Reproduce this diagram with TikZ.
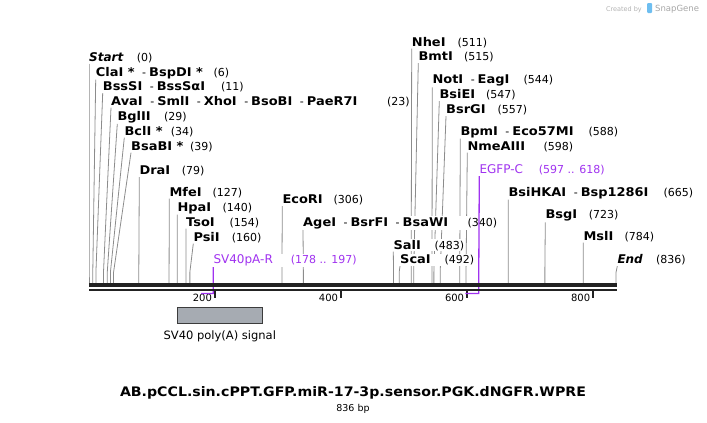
\documentclass[tikz,border=0pt]{standalone}
\usepackage{fontspec}
\setmainfont{DejaVu Sans}[BoldFeatures={FakeStretch=1.08}]
\usetikzlibrary{positioning}
\definecolor{sitegray}{RGB}{140,140,140}
\definecolor{primer}{RGB}{160,50,240}
\definecolor{featfill}{RGB}{166,171,178}
\definecolor{featdraw}{RGB}{60,60,60}
\definecolor{axisblack}{RGB}{34,34,34}
\definecolor{logoblue}{RGB}{110,190,240}
\pgfdeclarelayer{bg}
\pgfsetlayers{bg,main}
\newcommand{\enz}[1]{{\fontsize{12}{14}\selectfont\bfseries #1}}
\newcommand{\enzsep}{\hspace{7.5pt}-\hspace{3pt}}
\newcommand{\sitelabel}[3]{\makebox[#1pt][l]{#2}(#3)}
\begin{document}
\begin{tikzpicture}[x=1pt, y=-1pt,
    cut/.style={anchor=base west, inner xsep=0pt, inner ysep=1pt, fill=white,
      font=\fontsize{11}{13}\selectfont},
    oligo/.style={cut, text=primer},
    cutline/.style={draw=sitegray, line width=0.8pt},
    oligoline/.style={draw=primer, line width=1.3pt},
    bar/.style={draw=axisblack},
    tick/.style={draw=axisblack, line width=2pt},
    feat/.style={draw=featdraw, fill=featfill, line width=1.2pt,
      minimum width=85pt, minimum height=16pt, inner sep=0pt}]
  \useasboundingbox (0,0) rectangle (707,423);

  \begin{scope}[xshift=89pt, x=0.6305pt]
    \foreach \bp in {0,6,11,23,29,34,39,79,127,140,154,160,178,197,306,340,
        483,492,511,515,544,547,557,588,598,597,618,665,723,784,836}
      \coordinate (s\bp) at (\bp,283);
    \foreach \t in {200,400,600,800} {
      \draw[tick] (\t,291) -- (\t,297.5);
      \node[anchor=base east, inner sep=0pt, font=\fontsize{10}{12}\selectfont]
        (tick\t) at ([xshift=-3pt]\t,301) {\t};
    }
  \end{scope}

  \node[cut] (start) at (89,61) {\sitelabel{47.7}{\enz{\itshape Start}}{0}};
  \node[cut] (claI) at (95.7,76) {\sitelabel{117.6}{\enz{ClaI *}\enzsep\enz{BspDI *}}{6}};
  \node[cut] (bssSI) at (102.7,90.5) {\sitelabel{118.3}{\enz{BssSI}\enzsep\enz{BssSαI}}{11}};
  \node[cut] (avaI) at (111,105) {\sitelabel{276}{\enz{AvaI}\enzsep\enz{SmlI}\enzsep\enz{XhoI}\enzsep\enz{BsoBI}\enzsep\enz{PaeR7I}}{23}};
  \node[cut] (bglII) at (117.3,120) {\sitelabel{46.7}{\enz{BglII}}{29}};
  \node[cut] (bclI) at (124.3,135) {\sitelabel{46.4}{\enz{BclI *}}{34}};
  \node[cut] (bsaBI) at (131,150) {\sitelabel{59}{\enz{BsaBI *}}{39}};
  \node[cut] (draI) at (139.3,174.5) {\sitelabel{42.4}{\enz{DraI}}{79}};
  \node[cut] (mfeI) at (169.3,196) {\sitelabel{43}{\enz{MfeI}}{127}};
  \node[cut] (hpaI) at (177.3,211) {\sitelabel{45}{\enz{HpaI}}{140}};
  \node[cut] (tsoI) at (186,226) {\sitelabel{43.3}{\enz{TsoI}}{154}};
  \node[cut] (psiI) at (193.3,241) {\sitelabel{38.4}{\enz{PsiI}}{160}};
  \node[oligo] (sv40r) at (213.3,263.5) {\makebox[77.4pt][l]{\fontsize{12}{14}\selectfont SV40pA-R}(178 .. 197)};
  \node[cut] (ecoRI) at (282.3,203.5) {\sitelabel{51}{\enz{EcoRI}}{306}};
  \node[cut] (ageI) at (303,226) {\sitelabel{164.3}{\enz{AgeI}\enzsep\enz{BsrFI}\enzsep\enz{BsaWI}}{340}};
  \node[cut] (salI) at (393.3,249) {\sitelabel{41}{\enz{SalI}}{483}};
  \node[cut] (scaI) at (400,263.5) {\sitelabel{44.3}{\enz{ScaI}}{492}};
  \node[cut] (nheI) at (411.7,46) {\sitelabel{45.6}{\enz{NheI}}{511}};
  \node[cut] (bmtI) at (418.3,60.5) {\sitelabel{45.7}{\enz{BmtI}}{515}};
  \node[cut] (notI) at (432.3,83.5) {\sitelabel{91}{\enz{NotI}\enzsep\enz{EagI}}{544}};
  \node[cut] (bsiEI) at (439.3,98.5) {\sitelabel{46.7}{\enz{BsiEI}}{547}};
  \node[cut] (bsrGI) at (446,113.5) {\sitelabel{51.3}{\enz{BsrGI}}{557}};
  \node[cut] (bpmI) at (460.3,135) {\sitelabel{128}{\enz{BpmI}\enzsep\enz{Eco57MI}}{588}};
  \node[cut] (nmeAIII) at (467.3,150) {\sitelabel{76}{\enz{NmeAIII}}{598}};
  \node[oligo] (egfpc) at (479.3,173.5) {\makebox[59.4pt][l]{\fontsize{12}{14}\selectfont EGFP-C}(597 .. 618)};
  \node[cut] (bsiHKAI) at (508.3,196) {\sitelabel{155}{\enz{BsiHKAI}\enzsep\enz{Bsp1286I}}{665}};
  \node[cut] (bsgI) at (545.3,218.5) {\sitelabel{43.4}{\enz{BsgI}}{723}};
  \node[cut] (mslI) at (583.3,240) {\sitelabel{41}{\enz{MslI}}{784}};
  \node[cut] (end) at (617.3,263.5) {\sitelabel{38.7}{\enz{\itshape End}}{836}};

  \begin{pgfonlayer}{bg}
    \foreach \lab/\bp in {start/0,claI/6,bssSI/11,avaI/23,bglII/29,bclI/34,bsaBI/39,
        draI/79,mfeI/127,hpaI/140,tsoI/154,psiI/160,ecoRI/306,ageI/340,salI/483,
        scaI/492,nheI/511,bmtI/515,notI/544,bsiEI/547,bsrGI/557,bpmI/588,
        nmeAIII/598,bsiHKAI/665,bsgI/723,mslI/784,end/836}
      \draw[cutline] (\lab.south west) -- ([yshift=11pt]s\bp) -- (s\bp);
  \end{pgfonlayer}

  \draw[oligoline] (sv40r.south west) -- ([yshift=-10.5pt]s197) -- ([yshift=-10.5pt]s178);
  \draw[oligoline] (egfpc.south west) -- ([yshift=-10.5pt]s618) -- ([yshift=-10.5pt]s597);

  \draw[bar, line width=3.5pt] ([yshift=-2pt]s0) -- ([yshift=-2pt,xshift=1pt]s836);
  \draw[bar, line width=2.5pt] ([yshift=-7pt]s0) -- ([yshift=-7pt,xshift=1pt]s836);

  \node[feat] (polyA) at (219.8,315.3) {};
  \node[below=7pt of polyA, inner sep=0pt, font=\fontsize{11.5}{13}\selectfont] (polyAlab) {SV40 poly(A) signal};

  \node[inner sep=0pt, font=\fontsize{13.1}{15}\selectfont\bfseries, anchor=base] (title) at (353,396.7)
    {AB.pCCL.sin.cPPT.GFP.miR-17-3p.sensor.PGK.dNGFR.WPRE};
  \node[inner sep=0pt, font=\fontsize{9.5}{11}\selectfont, anchor=base] (size) at (353,411) {836 bp};

  \node[inner sep=0pt, anchor=base east, text=black!30, font=\fontsize{6.5}{8}\selectfont] (created) at (642,11) {Created by};
  \fill[logoblue, rounded corners=1pt] (647,3) rectangle (652,13);
  \node[inner sep=0pt, anchor=base west, text=black!35, font=\fontsize{8.5}{10}\selectfont] (snapgene) at (655,11) {SnapGene};
\end{tikzpicture}
\end{document}
